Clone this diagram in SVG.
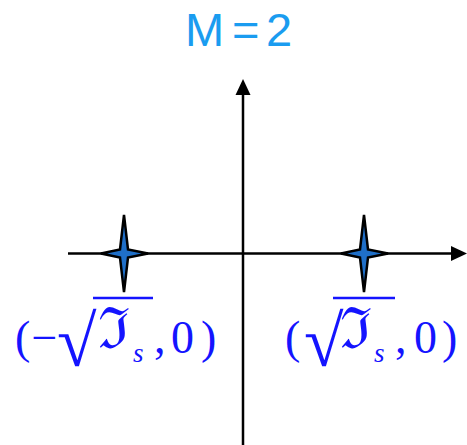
<svg xmlns="http://www.w3.org/2000/svg" width="467" height="445" viewBox="0 0 467 445">
<style>
.title{font-family:"Liberation Sans",Arial,sans-serif;font-size:47px;fill:#1a9cf0}
.lbl{font-family:"Liberation Serif","Times New Roman",serif;font-size:46px;fill:#1414ff}
.rad{font-family:"Liberation Serif","Times New Roman",serif;font-size:72px;fill:#1414ff}
.frak{font-family:"DejaVu Serif",serif;font-size:57px;fill:#1414ff}
.sub{font-family:"Liberation Serif","Times New Roman",serif;font-style:italic;font-size:27px;fill:#1414ff}
.axis{stroke:#000;stroke-width:2.5;fill:none}
.star{fill:#1f6fc8;stroke:#000;stroke-width:2.5;stroke-linejoin:miter}
.bar{stroke:#1414ff;stroke-width:2.5}
</style>
<rect width="467" height="445" fill="#ffffff"/>
<g id="title"><text class="title" x="185" y="46">M</text><text class="title" x="232" y="46">=</text><text class="title" x="266" y="46">2</text></g>
<g id="connectors">
<line class="axis" x1="243" y1="445" x2="243" y2="92"/>
<polygon points="243,79 235.5,95 250.5,95" fill="#000"/>
<line class="axis" x1="68" y1="253.5" x2="455" y2="253.5"/>
<polygon points="467,253.5 451,246 451,261" fill="#000"/>
</g>
<g id="star-left"><path class="star" d="M124,215 L128,249.5 L148,253.5 L128,257.5 L124,292 L120,257.5 L101,253.5 L120,249.5 Z"/></g>
<g id="star-right"><path class="star" d="M364,215 L368,249.5 L388,253.5 L368,257.5 L364,292 L360,257.5 L341,253.5 L360,249.5 Z"/></g>
<g id="label-left">
<text class="lbl" x="15" y="353">(</text>
<text class="lbl" x="31.5" y="353">−</text>
<text class="rad" x="57" y="366">√</text>
<line class="bar" x1="93" y1="298" x2="153" y2="298"/>
<text class="frak" x="98" y="348">ℑ</text>
<text class="sub" x="133" y="362">s</text>
<text class="lbl" x="154" y="353">,</text>
<text class="lbl" x="171" y="353">0</text>
<text class="lbl" x="201" y="353">)</text>
</g>
<g id="label-right">
<text class="lbl" x="285" y="353">(</text>
<text class="rad" x="304" y="366">√</text>
<line class="bar" x1="333" y1="298" x2="395" y2="298"/>
<text class="frak" x="340" y="348">ℑ</text>
<text class="sub" x="374" y="362">s</text>
<text class="lbl" x="395" y="353">,</text>
<text class="lbl" x="414" y="353">0</text>
<text class="lbl" x="442" y="353">)</text>
</g>
</svg>
